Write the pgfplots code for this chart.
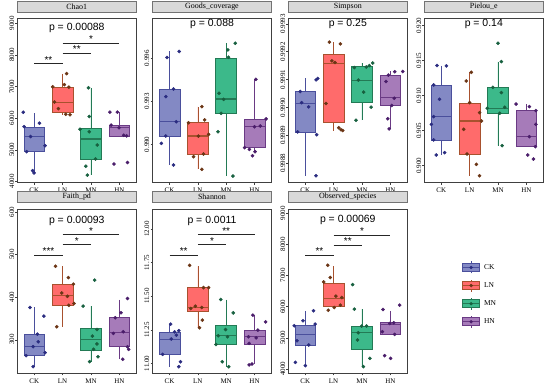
\documentclass[border=0pt]{standalone}
\usepackage{pgfplots}
\pgfplotsset{compat=1.18}
\usepgfplotslibrary{statistics}
\usepackage{fontspec}
\setmainfont{Liberation Serif}
\newfontfamily\psans{Liberation Sans}
\definecolor{CKF}{HTML}{8389C4}
\definecolor{CKL}{HTML}{4A4F9C}
\definecolor{CKP}{HTML}{2A2C80}
\definecolor{LNF}{HTML}{FF6B6B}
\definecolor{LNL}{HTML}{A8512E}
\definecolor{LNP}{HTML}{6B3515}
\definecolor{MNF}{HTML}{3CB98A}
\definecolor{MNL}{HTML}{237A55}
\definecolor{MNP}{HTML}{17603F}
\definecolor{HNF}{HTML}{A67BB9}
\definecolor{HNL}{HTML}{6A3A84}
\definecolor{HNP}{HTML}{4A1D6A}
\newcommand{\bx}[7]{\addplot[boxplot prepared={draw position=#1, lower whisker=#2, lower quartile=#3, median=#4, upper quartile=#5, upper whisker=#6}, draw=#7L, fill=#7F, line width=0.6pt] coordinates {};}
\newcommand{\pts}[2]{\addplot[only marks, mark=*, mark size=1.6bp, color=#1P, mark options={draw=#1P, fill=#1P}] coordinates {#2};}
\newcommand{\sig}[5]{\addplot[black!85, line width=1pt] coordinates {(#1,#4) (#2,#4)};
\node[anchor=base, inner sep=0pt, yshift=0.5bp, font=\psans\fontsize{10}{10}\selectfont] at (axis cs:#3,#4) {#5};}
\newcommand{\pval}[2]{\node[font=\psans\fontsize{10.5}{12}\selectfont] at (rel axis cs:0.5,#1) {#2};}
\newcommand{\legicon}[1]{\draw[#1L, line width=0.6pt] (8.5bp,-6bp)--(8.5bp,6bp); \draw[#1L, fill=#1F, line width=0.6pt] (0bp,-4bp) rectangle (17bp,4bp); \draw[#1L, line width=0.9pt] (0bp,0bp)--(17bp,0bp); \fill[#1P] (8.5bp,0bp) circle (1.5bp);}
\pgfplotsset{
 boxplot/draw direction=y,
 boxplot/box extend=0.74,
 boxplot/whisker extend=0,
 boxplot/every median/.style={line width=1.1pt},
 panel/.style={
 scale only axis, width=119bp, height=164.5bp, anchor=south west,
 xmin=0.4, xmax=4.6, xtick={1,2,3,4}, xticklabels={CK,LN,MN,HN},
 tick pos=left, tick align=outside, major tick length=2bp,
 axis line style={draw=black!75, line width=0.5pt},
 every tick/.style={black!75, line width=0.4pt},
 ticklabel style={font=\fontsize{7}{8}\selectfont},
 yticklabel style={rotate=90, anchor=south, inner sep=1pt},
 xticklabel style={inner sep=1.5pt, yshift=-1.5bp},
 title style={at={(0.5,1)}, anchor=south, yshift=0pt, inner sep=0pt, fill=black!15, draw=black!55, line width=0.5pt, minimum width=119bp, minimum height=11bp, font=\fontsize{8}{9}\selectfont},
 }
}
\begin{document}
\begin{tikzpicture}
\useasboundingbox (0,0) rectangle (550bp,389bp);
% Chao1
\begin{axis}[panel, at={(17.3bp,206.3bp)}, title={Chao1}, ymin=3960, ymax=9160,
 ytick={4000,5000,6000,7000,8000,9000}, yticklabels={4000,5000,6000,7000,8000,9000}]
\bx{1}{4290}{4940}{5420}{5720}{6150}{CK}
\bx{2}{6110}{6170}{6490}{6990}{7410}{LN}
\bx{3}{4200}{4710}{5340}{5670}{6960}{MN}
\bx{4}{5420}{5420}{5700}{5780}{6190}{HN}
\pts{CK}{(0.61,6190)(1.18,5840)(0.64,5730)(0.87,5420)(1.38,5130)(0.73,4940)(0.94,4340)(0.99,4270)}
\pts{LN}{(2.14,7410)(2.06,7060)(1.65,6990)(2.22,6980)(1.71,6510)(1.85,6300)(2.11,6120)(2.26,6110)}
\pts{MN}{(2.91,6960)(2.94,6050)(2.61,5650)(2.94,5570)(3.22,5150)(3.16,4710)(2.82,4480)(2.87,4200)}
\pts{HN}{(3.67,6190)(3.93,6190)(3.71,5780)(4.16,5460)(4.26,5440)(3.81,4550)(4.29,4600)(3.99,5700)}
\sig{1}{2}{1.5}{7720}{**}
\sig{2}{3}{2.5}{8060}{**}
\sig{2}{4}{3}{8370}{*}
\pval{0.939}{p = 0.00088}
\end{axis}
% Goods
\begin{axis}[panel, at={(152.5bp,206.3bp)}, title={Goods\_coverage}, ymin=0.98733, ymax=0.99879,
 ytick={0.990,0.993,0.996}, yticklabels={0.990,0.993,0.996}]
\bx{1}{0.98856}{0.99058}{0.99158}{0.99386}{0.99647}{CK}
\bx{2}{0.98826}{0.98933}{0.99058}{0.99151}{0.99263}{LN}
\bx{3}{0.98779}{0.99216}{0.99316}{0.99600}{0.99705}{MN}
\bx{4}{0.98949}{0.98977}{0.99123}{0.99177}{0.99453}{HN}
\pts{CK}{(1.34,0.99647)(0.91,0.99605)(1.14,0.99386)(0.87,0.99333)(1.24,0.99158)(0.87,0.99058)(0.71,0.99007)(1.14,0.98856)}
\pts{LN}{(2.14,0.99263)(2.24,0.99170)(1.67,0.99151)(2.38,0.99070)(2.02,0.99058)(2.20,0.98933)(1.85,0.98914)(2.14,0.98826)}
\pts{MN}{(3.32,0.99705)(3.06,0.99658)(3.08,0.99607)(2.75,0.99356)(2.91,0.99314)(2.82,0.99216)(2.71,0.99088)(3.24,0.98779)}
\pts{HN}{(4.05,0.99453)(4.41,0.99177)(4.20,0.99128)(4.00,0.99123)(3.65,0.98977)(3.82,0.98965)(3.93,0.98921)(4.02,0.98949)}
\pval{0.9655}{p = 0.088}
\end{axis}
% Simpson
\begin{axis}[panel, at={(288.3bp,206.3bp)}, title={Simpson}, ymin=0.99873, ymax=0.99932,
 ytick={0.9988,0.9989,0.9990,0.9991,0.9992,0.9993}, yticklabels={0.9988,0.9989,0.9990,0.9991,0.9992,0.9993}]
\bx{1}{0.998755}{0.998912}{0.999014}{0.999057}{0.999104}{CK}
\bx{2}{0.998917}{0.998945}{0.999158}{0.999189}{0.999234}{LN}
\bx{3}{0.998954}{0.999017}{0.999098}{0.999146}{0.999159}{MN}
\bx{4}{0.998923}{0.999007}{0.999035}{0.999116}{0.999129}{HN}
\pts{CK}{(1.44,0.999104)(1.38,0.999099)(0.82,0.999057)(0.87,0.999017)(1.12,0.999002)(0.73,0.998912)(1.40,0.998902)(1.38,0.998755)}
\pts{LN}{(1.85,0.999234)(2.24,0.999228)(1.94,0.999167)(2.05,0.999161)(1.73,0.999014)(2.18,0.998927)(2.26,0.998920)(2.32,0.998917)}
\pts{MN}{(3.38,0.999159)(3.26,0.999150)(3.15,0.999145)(2.73,0.999143)(2.87,0.999098)(3.06,0.999055)(3.32,0.999001)(2.79,0.998954)}
\pts{HN}{(4.44,0.999129)(4.16,0.999128)(3.93,0.999116)(3.85,0.999093)(4.14,0.999033)(4.05,0.999007)(3.91,0.998959)(3.96,0.998923)}
\pval{0.9655}{p = 0.25}
\end{axis}
% Pielou
\begin{axis}[panel, at={(424.3bp,206.3bp)}, title={Pielou\_e}, ymin=0.89757, ymax=0.92105,
 ytick={0.900,0.905,0.910,0.915,0.920}, yticklabels={0.900,0.905,0.910,0.915,0.920}]
\bx{1}{0.90152}{0.90367}{0.90700}{0.91152}{0.91429}{CK}
\bx{2}{0.89857}{0.90167}{0.90638}{0.90890}{0.91333}{LN}
\bx{3}{0.90286}{0.90748}{0.90819}{0.91119}{0.91486}{MN}
\bx{4}{0.90271}{0.90271}{0.90414}{0.90786}{0.90880}{HN}
\pts{CK}{(0.85,0.91429)(1.18,0.91424)(0.73,0.91152)(0.94,0.90948)(0.73,0.90700)(0.65,0.90590)(0.73,0.90367)(1.12,0.90186)(0.82,0.90152)}
\pts{LN}{(2.06,0.91333)(1.88,0.91210)(2.00,0.90900)(2.35,0.90757)(2.42,0.90638)(1.79,0.90519)(1.91,0.90167)(2.24,0.90019)(2.35,0.89857)}
\pts{MN}{(3.00,0.91748)(3.12,0.91486)(2.82,0.91119)(3.12,0.91043)(3.24,0.90833)(3.06,0.90748)(2.62,0.90819)(3.15,0.90286)}
\pts{HN}{(3.64,0.90880)(4.11,0.90843)(4.34,0.90786)(4.34,0.90590)(4.11,0.90414)(4.32,0.90271)(4.05,0.90152)(4.25,0.90095)}
\pval{0.9655}{p = 0.14}
\end{axis}
% Faith_pd
\begin{axis}[panel, at={(17.3bp,15.7bp)}, title={Faith\_pd}, ymin=221, ymax=607.8,
 ytick={300,400,500,600}, yticklabels={300,400,500,600}]
\bx{1}{236.7}{262.5}{283.6}{313}{375.8}{CK}
\bx{2}{330.5}{381.3}{404.7}{429.7}{472.7}{LN}
\bx{3}{248.4}{275.8}{300.8}{326.6}{379}{MN}
\bx{4}{254}{283.6}{316.4}{351.6}{394.5}{HN}
\pts{CK}{(0.85,375.8)(1.34,355.5)(1.11,313)(1.14,295)(0.96,283.6)(1.38,269.5)(0.71,262.5)(0.96,236.7)}
\pts{LN}{(1.75,472.7)(2.20,446)(2.38,430.5)(1.97,410)(2.17,402)(2.40,385)(2.22,381)(1.79,330.5)}
\pts{MN}{(3.13,440)(2.72,379)(3.21,324)(3.05,308.6)(3.21,290)(3.09,277.3)(3.25,260)(2.95,248.4)}
\pts{HN}{(4.29,396.9)(4.06,363.3)(3.86,351.6)(3.79,314.8)(4.14,318.8)(4.29,283.6)(4.33,277.3)(4.12,254)}
\sig{1}{2}{1.5}{498.4}{***}
\sig{2}{3}{2.5}{523.4}{*}
\sig{2}{4}{3}{546.9}{*}
\pval{0.929}{p = 0.00093}
\end{axis}
% Shannon
\begin{axis}[panel, at={(152.5bp,15.7bp)}, title={Shannon}, ymin=10.926, ymax=12.151,
 ytick={11,11.25,11.5,11.75,12}, yticklabels={11.00,11.25,11.50,11.75,12.00}]
\bx{1}{10.975}{11.067}{11.181}{11.235}{11.292}{CK}
\bx{2}{11.265}{11.384}{11.416}{11.564}{11.723}{LN}
\bx{3}{10.975}{11.144}{11.205}{11.285}{11.475}{MN}
\bx{4}{10.995}{11.144}{11.198}{11.248}{11.359}{HN}
\pts{CK}{(1.04,11.292)(1.33,11.243)(1.18,11.235)(1.24,11.210)(1.06,11.181)(0.76,11.067)(1.39,11.012)(1.33,10.975)}
\pts{LN}{(1.71,11.730)(2.20,11.564)(2.38,11.564)(1.91,11.426)(2.14,11.416)(1.75,11.408)(2.16,11.322)(2.06,11.265)}
\pts{MN}{(2.81,11.475)(3.25,11.376)(2.98,11.252)(2.72,11.205)(3.05,11.198)(2.64,11.141)(2.86,11.012)(3.09,10.975)}
\pts{HN}{(3.94,11.359)(4.39,11.309)(4.12,11.248)(3.79,11.198)(4.06,11.190)(3.81,11.149)(3.91,10.995)(3.81,10.988)}
\sig{1}{2}{1.5}{11.804}{**}
\sig{2}{3}{2.5}{11.884}{*}
\sig{2}{4}{3}{11.958}{**}
\pval{0.929}{p = 0.0011}
\end{axis}
% Observed_species
\begin{axis}[panel, at={(288.3bp,15.7bp)}, title={Observed\_species}, ymin=3861, ymax=9138,
 ytick={4000,5000,6000,7000,8000,9000}, yticklabels={4000,5000,6000,7000,8000,9000}]
\bx{1}{4107}{4746}{5109}{5407}{5866}{CK}
\bx{2}{6026}{6026}{6260}{6761}{7294}{LN}
\bx{3}{4075}{4640}{5162}{5375}{5919}{MN}
\bx{4}{5109}{5109}{5439}{5482}{5866}{HN}
\pts{CK}{(1.29,5866)(0.92,5546)(1.35,5439)(0.61,5386)(0.71,4906)(1.12,4768)(0.65,4213)(1.00,4107)}
\pts{LN}{(1.79,7326)(1.88,6932)(1.65,6793)(2.08,6335)(2.29,6292)(2.24,6047)(2.02,5970)(1.81,5887)}
\pts{MN}{(2.67,6708)(2.73,5919)(3.16,5375)(2.99,5375)(2.87,5162)(2.84,4928)(3.28,4341)(3.05,4075)}
\pts{HN}{(3.74,5908)(4.33,6047)(4.12,5482)(3.98,5460)(3.72,5194)(4.15,5109)(3.80,4426)(4.01,4341)}
\sig{1}{2}{1.5}{7646}{**}
\sig{2}{3}{2.5}{7966}{**}
\sig{2}{4}{3}{8286}{*}
\pval{0.933}{p = 0.00069}
\end{axis}
% Legend
\begin{axis}[hide axis, scale only axis, width=10bp, height=10bp, at={(462bp,128bp)}, anchor=north west,
 xmin=0, xmax=1, ymin=0, ymax=1,
 legend style={at={(0,1)}, anchor=north west, draw=none, fill=none, inner sep=0pt, row sep=5.5bp,
  font=\fontsize{7.5}{9}\selectfont, cells={anchor=west}, /tikz/every odd column/.append style={column sep=2bp}},
 legend cell align=left]
\addlegendimage{legend image code/.code={\legicon{CK}}}
\addlegendentry{CK}
\addlegendimage{legend image code/.code={\legicon{LN}}}
\addlegendentry{LN}
\addlegendimage{legend image code/.code={\legicon{MN}}}
\addlegendentry{MN}
\addlegendimage{legend image code/.code={\legicon{HN}}}
\addlegendentry{HN}
\end{axis}
\end{tikzpicture}
\end{document}
